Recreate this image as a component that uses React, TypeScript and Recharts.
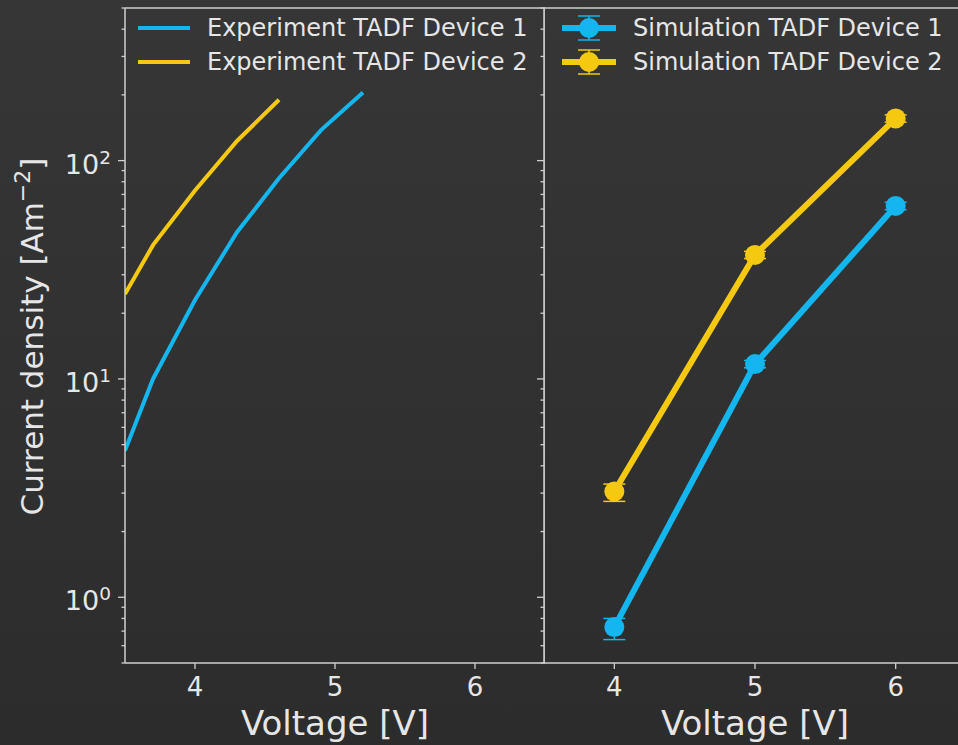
import React from "react";
import {
  ErrorBar,
  Legend,
  Line,
  LineChart,
  ReferenceLine,
  XAxis,
  YAxis,
} from "recharts";

// Measured J-V curves (left panel)
const expVoltage1 = [3.5, 3.7, 4.0, 4.3, 4.6, 4.9, 5.2];
const expCurrent1 = [4.7, 10, 23, 47, 83, 138, 205];
const expVoltage2 = [3.5, 3.7, 4.0, 4.3, 4.6];
const expCurrent2 = [24.5, 41, 73, 123, 190];

// Simulated points with asymmetric error bars (right panel)
const simVoltage = [4, 5, 6];
const simCurrent1 = [0.73, 11.7, 62];
const simErrLow1 = [0.09, 0.45, 2.4];
const simErrHigh1 = [0.07, 0.45, 2.4];
const simCurrent2 = [3.05, 37, 156];
const simErrLow2 = [0.3, 1.4, 6];
const simErrHigh2 = [0.25, 1.4, 6];

const voltageTicks = [4, 5, 6];
const decadeTicks = [1, 10, 100];
const minorTicks = [
  0.5, 0.6, 0.7, 0.8, 0.9, 2, 3, 4, 5, 6, 7, 8, 9, 20, 30, 40, 50, 60, 70, 80,
  90, 200, 300, 400, 500,
];

const expLabels = ["Experiment TADF Device 1", "Experiment TADF Device 2"];
const simLabels = ["Simulation TADF Device 1", "Simulation TADF Device 2"];

const BLUE = "#13b6ee";
const GOLD = "#f6c911";
const TEXT = "#e6e6e6";
const SPINE = "#cfcfcf";
const FONT = "'DejaVu Sans', sans-serif";

const X_DOMAIN: [number, number] = [3.5, 6.5];
const Y_DOMAIN: [number, number] = [0.5, 500];
const Y_TICKS = [...decadeTicks, ...minorTicks].sort((a, b) => a - b);

const exp1 = expVoltage1.map((v, i) => ({ v, j: expCurrent1[i] }));
const exp2 = expVoltage2.map((v, i) => ({ v, j: expCurrent2[i] }));
const sim1 = simVoltage.map((v, i) => ({
  v,
  j: simCurrent1[i],
  err: [simErrLow1[i], simErrHigh1[i]],
}));
const sim2 = simVoltage.map((v, i) => ({
  v,
  j: simCurrent2[i],
  err: [simErrLow2[i], simErrHigh2[i]],
}));

const PLOT_TOP = 8;
const PLOT_H = 655;
const H = PLOT_TOP + PLOT_H + 82;

function LogTick(props: any) {
  const { x, y, payload, showLabel } = props;
  const v = payload.value;
  const major = decadeTicks.includes(v);
  const len = major ? 7 : 3.5;
  return (
    <g>
      <line x1={x - len} x2={x} y1={y} y2={y} stroke={SPINE} strokeWidth={1.3} />
      {showLabel && major && (
        <text
          x={x - 14}
          y={y + 13}
          textAnchor="end"
          fill={TEXT}
          fontSize={27}
          fontFamily={FONT}
        >
          10
          <tspan dy={-10} fontSize={18.5}>
            {Math.round(Math.log10(v))}
          </tspan>
        </text>
      )}
    </g>
  );
}

function VoltTick(props: any) {
  const { x, y, payload } = props;
  return (
    <text x={x} y={y + 27} textAnchor="middle" fill={TEXT} fontSize={26} fontFamily={FONT}>
      {payload.value}
    </text>
  );
}

function XTitle(props: any) {
  const vb = props.viewBox;
  return (
    <text
      x={vb.x + vb.width / 2}
      y={735}
      textAnchor="middle"
      fill={TEXT}
      fontSize={34}
      fontFamily={FONT}
    >
      Voltage [V]
    </text>
  );
}

function YTitle(props: any) {
  const vb = props.viewBox;
  const cx = 43;
  const cy = vb.y + vb.height / 2 + 1;
  return (
    <text
      x={cx}
      y={cy}
      transform={`rotate(-90, ${cx}, ${cy})`}
      textAnchor="middle"
      fill={TEXT}
      fontSize={31}
      fontFamily={FONT}
    >
      Current density [Am
      <tspan dy={-13} fontSize={22}>
        −2
      </tspan>
      <tspan dy={13}>]</tspan>
    </text>
  );
}

function ExpLegend() {
  const rows = [
    { y: 28, color: BLUE, label: expLabels[0] },
    { y: 62, color: GOLD, label: expLabels[1] },
  ];
  return (
    <svg width={545} height={90}>
      {rows.map((r) => (
        <g key={r.label}>
          <line x1={138} x2={190} y1={r.y} y2={r.y} stroke={r.color} strokeWidth={4} />
          <text x={207} y={r.y + 8} fill={TEXT} fontSize={24} fontFamily={FONT}>
            {r.label}
          </text>
        </g>
      ))}
    </svg>
  );
}

function SimLegend() {
  const rows = [
    { y: 28, color: BLUE, label: simLabels[0] },
    { y: 62, color: GOLD, label: simLabels[1] },
  ];
  const mx = 59;
  return (
    <svg width={436} height={90}>
      {rows.map((r) => (
        <g key={r.label}>
          <line x1={32} x2={86} y1={r.y} y2={r.y} stroke={r.color} strokeWidth={6} />
          <line x1={mx} x2={mx} y1={r.y - 12} y2={r.y + 12} stroke={r.color} strokeWidth={1.5} />
          <line x1={mx - 11} x2={mx + 11} y1={r.y - 12} y2={r.y - 12} stroke={r.color} strokeWidth={1.5} />
          <line x1={mx - 11} x2={mx + 11} y1={r.y + 12} y2={r.y + 12} stroke={r.color} strokeWidth={1.5} />
          <circle cx={mx} cy={r.y} r={10} fill={r.color} />
          <text x={103} y={r.y + 8} fill={TEXT} fontSize={24} fontFamily={FONT}>
            {r.label}
          </text>
        </g>
      ))}
    </svg>
  );
}

function ExperimentPanel() {
  return (
    <LineChart width={545} height={H} margin={{ top: PLOT_TOP, right: 0, left: 0, bottom: 0 }}>
      <XAxis
        type="number"
        dataKey="v"
        domain={X_DOMAIN}
        ticks={voltageTicks}
        allowDataOverflow
        height={82}
        tickSize={6}
        tickMargin={0}
        tickLine={{ stroke: SPINE, strokeWidth: 1.3 }}
        axisLine={{ stroke: SPINE, strokeWidth: 1.5 }}
        tick={<VoltTick />}
        label={<XTitle />}
      />
      <YAxis
        type="number"
        scale="log"
        domain={Y_DOMAIN}
        ticks={Y_TICKS}
        interval={0}
        allowDataOverflow
        width={125}
        tickSize={0}
        tickMargin={0}
        tickLine={false}
        axisLine={{ stroke: SPINE, strokeWidth: 1.5 }}
        tick={<LogTick showLabel />}
        label={<YTitle />}
      />
      <ReferenceLine y={500} stroke={SPINE} strokeWidth={1.5} />
      <ReferenceLine x={6.5} stroke={SPINE} strokeWidth={1.5} />
      <Line
        data={exp1}
        dataKey="j"
        stroke={BLUE}
        strokeWidth={4}
        dot={false}
        isAnimationActive={false}
      />
      <Line
        data={exp2}
        dataKey="j"
        stroke={GOLD}
        strokeWidth={4}
        dot={false}
        isAnimationActive={false}
      />
      <Legend
        layout="vertical"
        align="center"
        verticalAlign="middle"
        wrapperStyle={{ left: 0, top: 0, width: 545, height: 90 }}
        content={() => <ExpLegend />}
      />
    </LineChart>
  );
}

function SimulationPanel() {
  return (
    <LineChart width={436} height={H} margin={{ top: PLOT_TOP, right: 0, left: 0, bottom: 0 }}>
      <XAxis
        type="number"
        dataKey="v"
        domain={X_DOMAIN}
        ticks={voltageTicks}
        allowDataOverflow
        height={82}
        tickSize={6}
        tickMargin={0}
        tickLine={{ stroke: SPINE, strokeWidth: 1.3 }}
        axisLine={{ stroke: SPINE, strokeWidth: 1.5 }}
        tick={<VoltTick />}
        label={<XTitle />}
      />
      <YAxis
        type="number"
        scale="log"
        domain={Y_DOMAIN}
        ticks={Y_TICKS}
        interval={0}
        allowDataOverflow
        width={14}
        tickSize={0}
        tickMargin={0}
        tickLine={false}
        axisLine={{ stroke: SPINE, strokeWidth: 1.5 }}
        tick={<LogTick />}
      />
      <ReferenceLine y={500} stroke={SPINE} strokeWidth={1.5} />
      <Line
        data={sim1}
        dataKey="j"
        stroke={BLUE}
        strokeWidth={6}
        dot={{ r: 10, fill: BLUE, stroke: BLUE, strokeWidth: 0 }}
        isAnimationActive={false}
      >
        <ErrorBar
          dataKey="err"
          direction="y"
          width={11}
          stroke={BLUE}
          strokeWidth={1.5}
          isAnimationActive={false}
        />
      </Line>
      <Line
        data={sim2}
        dataKey="j"
        stroke={GOLD}
        strokeWidth={6}
        dot={{ r: 10, fill: GOLD, stroke: GOLD, strokeWidth: 0 }}
        isAnimationActive={false}
      >
        <ErrorBar
          dataKey="err"
          direction="y"
          width={11}
          stroke={GOLD}
          strokeWidth={1.5}
          isAnimationActive={false}
        />
      </Line>
      <Legend
        layout="vertical"
        align="center"
        verticalAlign="middle"
        wrapperStyle={{ left: 0, top: 0, width: 436, height: 90 }}
        content={() => <SimLegend />}
      />
    </LineChart>
  );
}

export default function App() {
  return (
    <div
      style={{
        position: "fixed",
        left: 0,
        top: 0,
        width: 958,
        height: 745,
        overflow: "hidden",
        background: "linear-gradient(180deg, #363636 0%, #2c2c2c 100%)",
      }}
    >
      <div style={{ position: "absolute", left: 0, top: 0 }}>
        <ExperimentPanel />
      </div>
      <div style={{ position: "absolute", left: 530, top: 0 }}>
        <SimulationPanel />
      </div>
    </div>
  );
}
